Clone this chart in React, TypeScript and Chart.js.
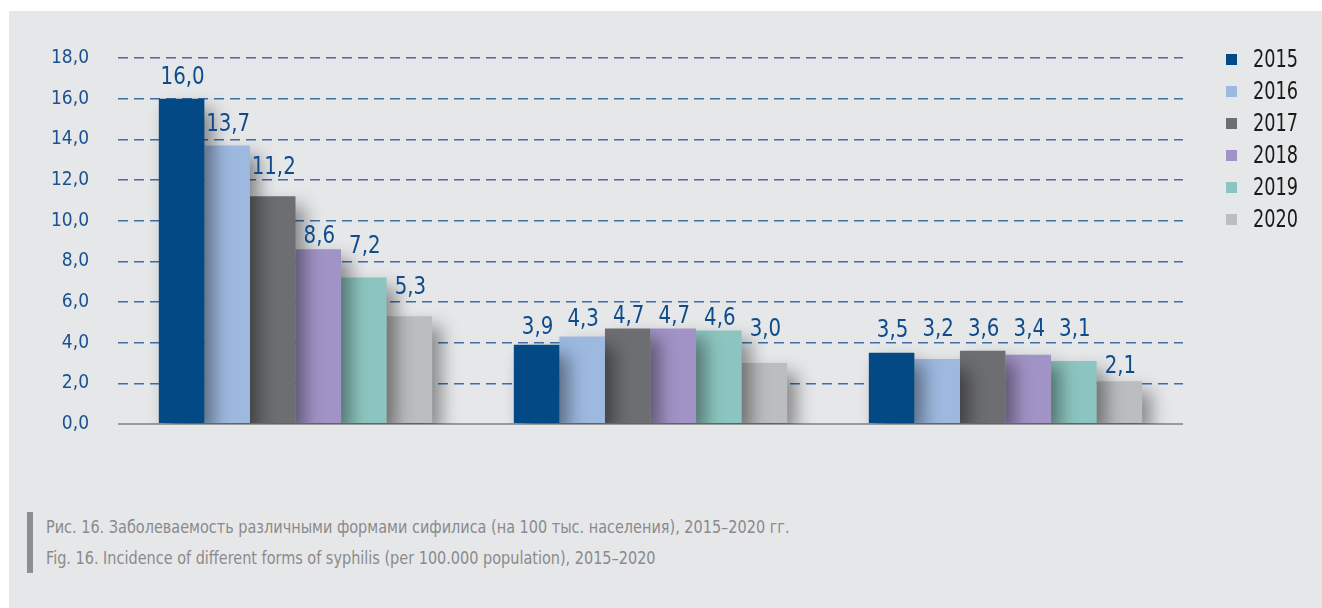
import React, { useEffect, useRef } from "react";
import { Chart, registerables } from "chart.js";

Chart.register(...registerables);

const categories = ["Группа 1", "Группа 2", "Группа 3"];
const years = ["2015", "2016", "2017", "2018", "2019", "2020"];
const v2015 = [16.0, 3.9, 3.5];
const v2016 = [13.7, 4.3, 3.2];
const v2017 = [11.2, 4.7, 3.6];
const v2018 = [8.6, 4.7, 3.4];
const v2019 = [7.2, 4.6, 3.1];
const v2020 = [5.3, 3.0, 2.1];
const seriesValues = [v2015, v2016, v2017, v2018, v2019, v2020];
const colors = ["#034985", "#9db9e0", "#6d6e71", "#a293c6", "#8cc5bf", "#bcbdbf"];
const yTicks = [0, 2, 4, 6, 8, 10, 12, 14, 16, 18];
// gap in px between the top of each bar and the baseline of its value label
const labelGap2015 = [15, 11, 16];
const labelGap2016 = [14, 11, 23];
const labelGap2017 = [22, 5, 15];
const labelGap2018 = [6, 5, 19];
const labelGap2019 = [25, 5, 25];
const labelGap2020 = [22, 27, 8];
const labelGaps = [labelGap2015, labelGap2016, labelGap2017, labelGap2018, labelGap2019, labelGap2020];
const captionRu = "Рис. 16. Заболеваемость различными формами сифилиса (на 100 тыс. населения), 2015–2020 гг.";
const captionEn = "Fig. 16. Incidence of different forms of syphilis (per 100.000 population), 2015–2020";

const FONT = '"Liberation Sans Narrow", "Arial Narrow", "DejaVu Sans Condensed", sans-serif';
const fmt = (v: number) => v.toFixed(1).replace(".", ",");

const shadowPlugin = {
  id: "barShadow",
  beforeDatasetsDraw(chart: any) {
    const ctx = chart.ctx;
    ctx.save();
    ctx.shadowColor = "rgba(0,0,0,0.42)";
    ctx.shadowBlur = 18;
    ctx.shadowOffsetX = 9;
    ctx.shadowOffsetY = 10;
  },
  afterDatasetsDraw(chart: any) {
    chart.ctx.restore();
  },
};

const labelPlugin = {
  id: "valueLabels",
  afterDraw(chart: any) {
    const ctx = chart.ctx;
    chart.data.datasets.forEach((ds: any, di: number) => {
      const meta = chart.getDatasetMeta(di);
      meta.data.forEach((bar: any, i: number) => {
        ctx.save();
        ctx.font = `25px ${FONT}`;
        ctx.fillStyle = "#0f4c8c";
        ctx.textAlign = "center";
        ctx.textBaseline = "alphabetic";
        ctx.translate(bar.x + 1, bar.y - labelGaps[di][i]);
        ctx.scale(0.88, 1);
        ctx.fillText(fmt(ds.data[i]), 0, 0);
        ctx.restore();
      });
    });
  },
};

export default function App() {
  const ref = useRef<HTMLCanvasElement | null>(null);
  useEffect(() => {
    if (!ref.current) return;
    const chart = new Chart(ref.current, {
      type: "bar",
      data: {
        labels: categories,
        datasets: years.map((y, i) => ({
          label: y,
          data: seriesValues[i],
          backgroundColor: colors[i],
          borderWidth: 0,
          categoryPercentage: 0.77,
          barPercentage: 1,
        })),
      },
      options: {
        animation: false,
        responsive: false,
        devicePixelRatio: 1,
        layout: { padding: { left: 0, top: 58, right: 139, bottom: 56 } },
        plugins: { legend: { display: false }, tooltip: { enabled: false } },
        scales: {
          x: { display: false },
          y: {
            min: 0,
            max: 18,
            afterBuildTicks: (scale: any) => {
              scale.ticks = yTicks.map((v) => ({ value: v }));
            },
            afterFit: (scale: any) => {
              scale.width = 118;
            },
            ticks: {
              padding: 29,
              color: "#1a5190",
              font: { family: FONT, size: 19 },
              callback: (v: any) => fmt(Number(v)),
            },
            grid: {
              drawTicks: false,
              color: (c: any) => (c.tick && c.tick.value === 0 ? "#9a9a9c" : "#3f6fa6"),
              lineWidth: (c: any) => (c.tick && c.tick.value === 0 ? 2 : 1.4),
            },
            border: {
              display: false,
              dash: (c: any) => (c.tick && c.tick.value === 0 ? [] : [10, 6]),
            },
          },
        },
      },
      plugins: [shadowPlugin, labelPlugin],
    } as any);
    return () => chart.destroy();
  }, []);

  return (
    <div style={{ position: "fixed", left: 0, top: 0, width: 1322, height: 608, background: "#ffffff", overflow: "hidden" }}>
      <div style={{ position: "absolute", left: 9, top: 11, right: 0, bottom: 0, background: "#e6e7e9" }} />
      <canvas ref={ref} width={1322} height={480} style={{ position: "absolute", left: 0, top: 0, width: 1322, height: 480 }} />
      <div style={{ position: "absolute", left: 1226, top: 43 }}>
        {years.map((y, i) => (
          <div key={y} style={{ display: "flex", alignItems: "center", height: 32 }}>
            <div style={{ width: 11, height: 11, background: colors[i] }} />
            <div style={{ marginLeft: 16, font: `24px ${FONT}`, color: "#1a1a1a", lineHeight: "32px", transform: "scaleX(0.82)", transformOrigin: "left center" }}>{y}</div>
          </div>
        ))}
      </div>
      <div style={{ position: "absolute", left: 27, top: 512, width: 6, height: 61, background: "#8e8e90" }} />
      <div style={{ position: "absolute", left: 46, top: 512, font: `17px ${FONT}`, color: "#8a8a8c", lineHeight: "31px", whiteSpace: "nowrap", transform: "scaleX(0.945)", transformOrigin: "left top" }}>
        <div>{captionRu}</div>
        <div>{captionEn}</div>
      </div>
    </div>
  );
}
